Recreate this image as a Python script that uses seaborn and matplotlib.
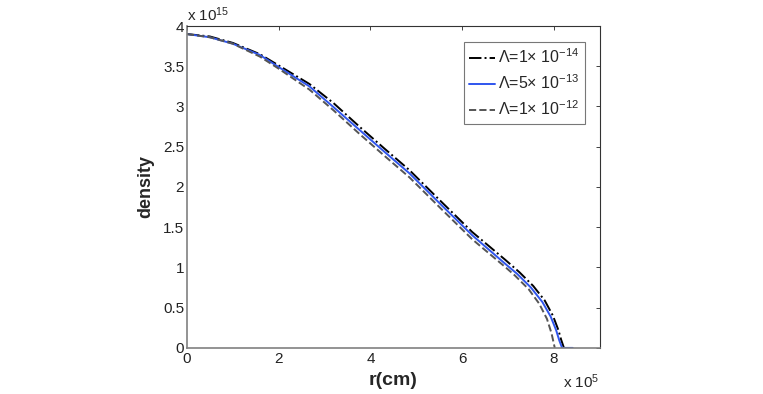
import numpy as np
import matplotlib
matplotlib.use("Agg")
import matplotlib.pyplot as plt
import seaborn as sns

# radius in units of 1e5 cm, density in units of 1e15
r_a = [0, 0.5, 1.0, 1.59, 2.0, 2.67, 3.2, 3.76, 4.3, 4.85, 5.54, 6.22, 6.95, 7.25, 7.55, 7.8, 7.98, 8.1, 8.16, 8.22]
rho_a = [3.90, 3.87, 3.79, 3.65, 3.51, 3.28, 3.04, 2.75, 2.48, 2.21, 1.82, 1.44, 1.09, 0.94, 0.77, 0.59, 0.40, 0.22, 0.10, 0.0]

r_b = [0, 0.5, 1.0, 1.59, 2.0, 2.67, 3.2, 3.76, 4.3, 4.85, 5.54, 6.22, 6.95, 7.2, 7.5, 7.75, 7.93, 8.05, 8.12, 8.18, 8.41]
rho_b = [3.90, 3.86, 3.78, 3.64, 3.49, 3.25, 2.99, 2.71, 2.44, 2.17, 1.78, 1.40, 1.04, 0.92, 0.75, 0.57, 0.39, 0.22, 0.09, 0.0, 0.0]

r_c = [0, 0.5, 1.0, 1.59, 2.0, 2.67, 3.2, 3.76, 4.3, 4.85, 5.54, 6.22, 6.95, 7.15, 7.45, 7.68, 7.85, 7.95, 8.02]
rho_c = [3.90, 3.86, 3.78, 3.62, 3.47, 3.21, 2.95, 2.66, 2.39, 2.12, 1.73, 1.35, 1.00, 0.90, 0.73, 0.55, 0.36, 0.18, 0.0]

labels = [r'$\Lambda$=1$\times$ 10$^{-14}$',
          r'$\Lambda$=5$\times$ 10$^{-13}$',
          r'$\Lambda$=1$\times$ 10$^{-12}$']

sns.set_theme(style="white")
plt.rcParams['font.family'] = ['Liberation Sans', 'DejaVu Sans']
plt.rcParams['mathtext.fontset'] = 'custom'
plt.rcParams['mathtext.rm'] = 'Liberation Sans'
plt.rcParams['mathtext.it'] = 'Liberation Sans:italic'

fig = plt.figure(figsize=(7.63, 3.94), dpi=100)
ax = fig.add_axes([0.245, 0.117, 0.541, 0.817])

sns.lineplot(x=r_a, y=rho_a, ax=ax, sort=False, color='black', linestyle='-.',
             linewidth=1.4, label=labels[0])
sns.lineplot(x=r_b, y=rho_b, ax=ax, sort=False, color='#2f55ee', linestyle='-',
             linewidth=1.4, label=labels[1])
sns.lineplot(x=r_c, y=rho_c, ax=ax, sort=False, color='#555555', linestyle='--',
             linewidth=1.4, label=labels[2])

ax.set_xlim(0, 9)
ax.set_ylim(0, 4)
ax.set_xticks([0, 2, 4, 6, 8])
ax.set_yticks(np.arange(0, 4.01, 0.5))
ax.set_yticklabels(['0', '0.5', '1', '1.5', '2', '2.5', '3', '3.5', '4'])
ax.tick_params(direction='in', length=3, width=0.6, colors='#222222', labelsize=11,
               top=True, right=True, pad=2)
ax.tick_params(axis='x', pad=3)
for side in ['left', 'bottom']:
    ax.spines[side].set_color('#808080')
    ax.spines[side].set_linewidth(1.2)
for side in ['top', 'right']:
    ax.spines[side].set_color('#333333')
    ax.spines[side].set_linewidth(0.8)

ax.set_xlabel('r(cm)', fontsize=14, fontweight='bold', labelpad=4)
ax.set_ylabel('density', fontsize=13, fontweight='bold', labelpad=6)

ax.text(0.0, 1.005, r'x 10$^{15}$', transform=ax.transAxes, fontsize=11,
        ha='left', va='bottom')
ax.text(1.0, -0.075, r'x 10$^{5}$', transform=ax.transAxes, fontsize=11,
        ha='right', va='top')

leg = ax.legend(loc='upper right', bbox_to_anchor=(0.964, 0.950), borderaxespad=0,
                fontsize=11.5, frameon=True, fancybox=False, handlelength=1.6,
                handletextpad=0.2, borderpad=0.35, labelspacing=0.45)
leg.get_frame().set_edgecolor('#555555')
leg.get_frame().set_linewidth(0.8)

fig.savefig('out.png', dpi=100)
